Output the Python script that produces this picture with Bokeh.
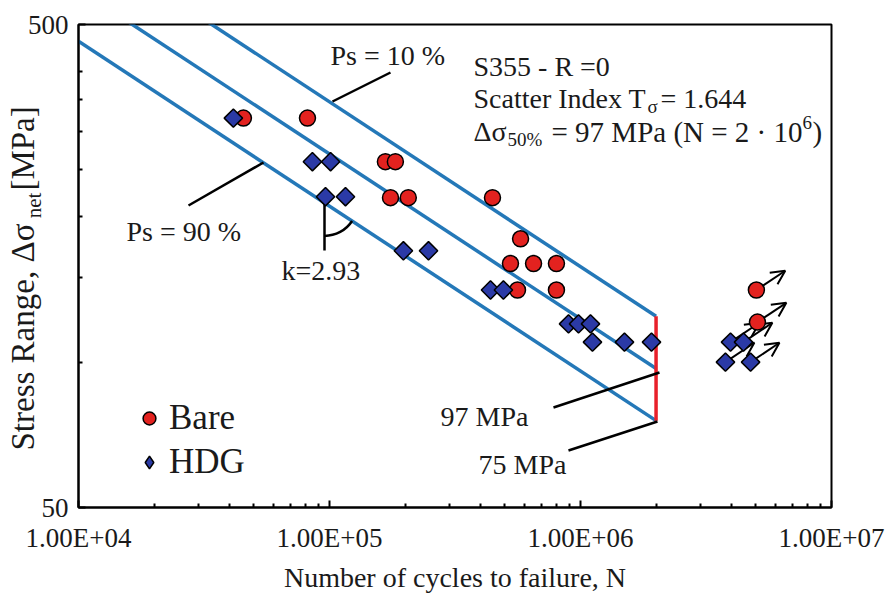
import numpy as np
from bokeh.plotting import figure
from bokeh.models import (FixedTicker, CustomJSTickFormatter, Label, Arrow, OpenHead,
                          Legend, LegendItem)
from bokeh.embed import file_html
from bokeh.resources import INLINE

FONT = "Liberation Serif"
TXT = "#1a1a1a"
RED = "#e3221f"
BLUE_MK = "#2b3aa6"
BLUE_LN = "#2478b8"
RED_LN = "#e8202a"
NB = "\u00a0"

# ---------------- data ----------------
bare_N = [45.4e3, 81.7e3, 167e3, 183e3, 175e3, 206e3, 446e3, 577e3, 526e3, 650e3, 802e3, 561e3, 802e3]
bare_S = [320, 320, 260, 260, 219, 219, 219, 180, 160, 160, 160, 141, 141]
bare_runout_N = [5.02e6, 5.07e6]
bare_runout_S = [141, 121]

hdg_N = [41.4e3, 85.5e3, 101e3, 96.4e3, 115.8e3, 197e3, 248e3, 438e3, 493e3,
         896e3, 982e3, 1.096e6, 1.116e6, 1.497e6, 1.918e6]
hdg_S = [320, 260, 260, 220, 220, 170, 170, 141, 141, 120, 120, 120, 110, 110, 110]
hdg_runout_N = [3.96e6, 4.46e6, 3.78e6, 4.76e6]
hdg_runout_S = [110, 110, 100, 100]

slope_k = 2.93
n_ref = 2e6
band_names = ["Ps = 10 %", "Ps = 50 %", "Ps = 90 %"]
band_S_ref = [124.4, 97.0, 75.65]

x_ticks = [1e4, 1e5, 1e6, 1e7]
x_minor = [m * 10 ** e for e in (4, 5, 6) for m in range(2, 10)]
y_ticks = [50, 500]
y_minor = [100, 150, 200, 250, 300, 350, 400]

# ---------------- layout helpers (pixel positions of the frame) ----------------
FL, FR, FT, FB = 78, 831, 24, 507
W, H = 888, 600


def px_N(x):
    return 10 ** (4 + 3 * (x - FL) / (FR - FL))


def px_S(y):
    return 10 ** (np.log10(500) - (y - FT) / (FB - FT))


p = figure(width=W, height=H, x_axis_type="log", y_axis_type="log",
           x_range=(1e4, 1e7), y_range=(50, 500),
           output_backend="svg", toolbar_location=None,
           min_border_left=FL, min_border_right=W - FR, min_border_top=FT,
           min_border_bottom=H - FB)
p.grid.visible = False
p.outline_line_color = "black"
p.outline_line_width = 2
p.outline_line_alpha = 1
p.background_fill_color = "white"
p.border_fill_color = "white"

p.xaxis.ticker = FixedTicker(ticks=x_ticks, minor_ticks=x_minor)
p.xaxis.formatter = CustomJSTickFormatter(
    code="const e = Math.round(Math.log10(tick)); return '1.00E+' + (e < 10 ? '0' : '') + e;")
p.yaxis.ticker = FixedTicker(ticks=y_ticks, minor_ticks=y_minor)
p.yaxis.formatter = CustomJSTickFormatter(code="return tick.toFixed(0);")

for ax in (p.xaxis[0], p.yaxis[0]):
    ax.axis_line_width = 2
    ax.axis_line_color = "black"
    ax.major_tick_in = 7
    ax.major_tick_out = 0
    ax.minor_tick_in = 4
    ax.minor_tick_out = 0
    ax.major_tick_line_width = 2
    ax.minor_tick_line_width = 2
    ax.major_tick_line_color = "black"
    ax.minor_tick_line_color = "black"
    ax.major_label_text_font = FONT
    ax.major_label_text_font_size = "27px"
    ax.major_label_text_color = TXT
    ax.axis_label_text_font = FONT
    ax.axis_label_text_font_style = "normal"
    ax.axis_label_text_color = TXT

p.xaxis.major_label_standoff = 15
p.yaxis.major_label_standoff = 10
p.xaxis.axis_label = "Number of cycles to failure, N"
p.xaxis.axis_label_text_font_size = "28px"
p.xaxis.axis_label_standoff = 6
# y label: the subscript "net" is added separately in the gap
p.yaxis.axis_label = "Stress Range, Δσ" + NB * 4 + "[MPa]" + NB * 3
p.yaxis.axis_label_text_font_size = "33px"
p.yaxis.axis_label_standoff = -16

# ---------------- S-N bands ----------------
for s_ref in band_S_ref:
    n_line = [1e4, n_ref]
    s_line = [s_ref * (n_ref / n) ** (1 / slope_k) for n in n_line]
    p.line(n_line, s_line, line_color=BLUE_LN, line_width=3.5)
p.line([n_ref, n_ref], [band_S_ref[2], band_S_ref[0]], line_color=RED_LN, line_width=3.5)

# ---------------- leader lines ----------------
leaders = [((390, 72), (332, 101)),   # Ps = 10 %
           ((188, 205), (263, 162)),  # Ps = 90 %
           ((553, 407), (659, 372)),  # 97 MPa
           ((568, 450), (657, 421))]  # 75 MPa
for (x0, y0), (x1, y1) in leaders:
    p.line([px_N(x0), px_N(x1)], [px_S(y0), px_S(y1)], line_color="black", line_width=2.5)

# slope marker k
n_k = px_N(324)
s_k = band_S_ref[2] * (n_ref / n_k) ** (1 / slope_k)
p.line([n_k, n_k], [s_k, px_S(250)], line_color="black", line_width=2.5)
p.arc(x=[n_k], y=[s_k], radius=33, radius_units="screen", start_angle=-np.pi / 2,
      end_angle=-0.58, direction="anticlock", line_color="black", line_width=2.5)

# ---------------- run-out arrows ----------------
for n, s in zip(bare_runout_N + hdg_runout_N, bare_runout_S + hdg_runout_S):
    arr = Arrow(x_start=n, y_start=s, x_end=n * 10 ** 0.115, y_end=s * 10 ** 0.04,
                end=OpenHead(size=14, line_width=2, line_color="black"),
                line_width=2, line_color="black", level="underlay")
    p.add_layout(arr)

# ---------------- markers ----------------
r_bare = p.scatter(bare_N + bare_runout_N, bare_S + bare_runout_S, marker="circle", size=16,
                   fill_color=RED, line_color="black", line_width=1.5)
r_hdg = p.scatter(hdg_N + hdg_runout_N, hdg_S + hdg_runout_S, marker="square", angle=np.pi / 4,
                  size=13, fill_color=BLUE_MK, line_color="black", line_width=1.5)
# legend key (not a data point): a diamond like the rotated squares
r_hdg_key = p.scatter(x=[float("nan")], y=[float("nan")], marker="diamond", size=13,
                      fill_color=BLUE_MK, line_color="black", line_width=1.5)

legend = Legend(items=[LegendItem(label="Bare", renderers=[r_bare]),
                       LegendItem(label="HDG", renderers=[r_hdg_key])],
                location=(55, 25), glyph_width=32, glyph_height=32, label_standoff=4,
                spacing=4, padding=0, margin=0, border_line_alpha=0, background_fill_alpha=0,
                label_text_font=FONT, label_text_font_size="35px", label_text_color=TXT)
p.add_layout(legend)


# ---------------- texts ----------------
def put(text, x, y, size="28px", align="left", angle=0.0):
    p.add_layout(Label(x=px_N(x), y=px_S(y), text=text, text_font=FONT, text_font_size=size,
                       text_color=TXT, text_align=align, text_baseline="middle", angle=angle))


put(band_names[0], 330, 55)
put(band_names[2], 126, 231)
put("k=2.93", 281, 270)
put("97 MPa", 440, 416)
put("75 MPa", 478, 464)

put("S355 - R =0", 473, 66)
put("Scatter Index T", 473, 98)
put("σ", 647, 106, size="19px")
put("= 1.644", 660, 98)
put("Δσ", 473, 131)
put("50%", 507, 139, size="19px")
put("= 97 MPa (N = 2 · 10", 551, 131, size="29px")
put("6", 802, 122, size="19px")
put(")", 812, 131, size="29px")

# subscript of the y-axis label (side panel label, canvas units so it is not clipped)
p.add_layout(Label(x=33, y=205, x_units="canvas", y_units="canvas", text="net",
                   text_font=FONT, text_font_size="21px", text_color=TXT,
                   text_align="center", text_baseline="middle", angle=np.pi / 2), "right")

open("out.html", "w").write(file_html(p, INLINE))
